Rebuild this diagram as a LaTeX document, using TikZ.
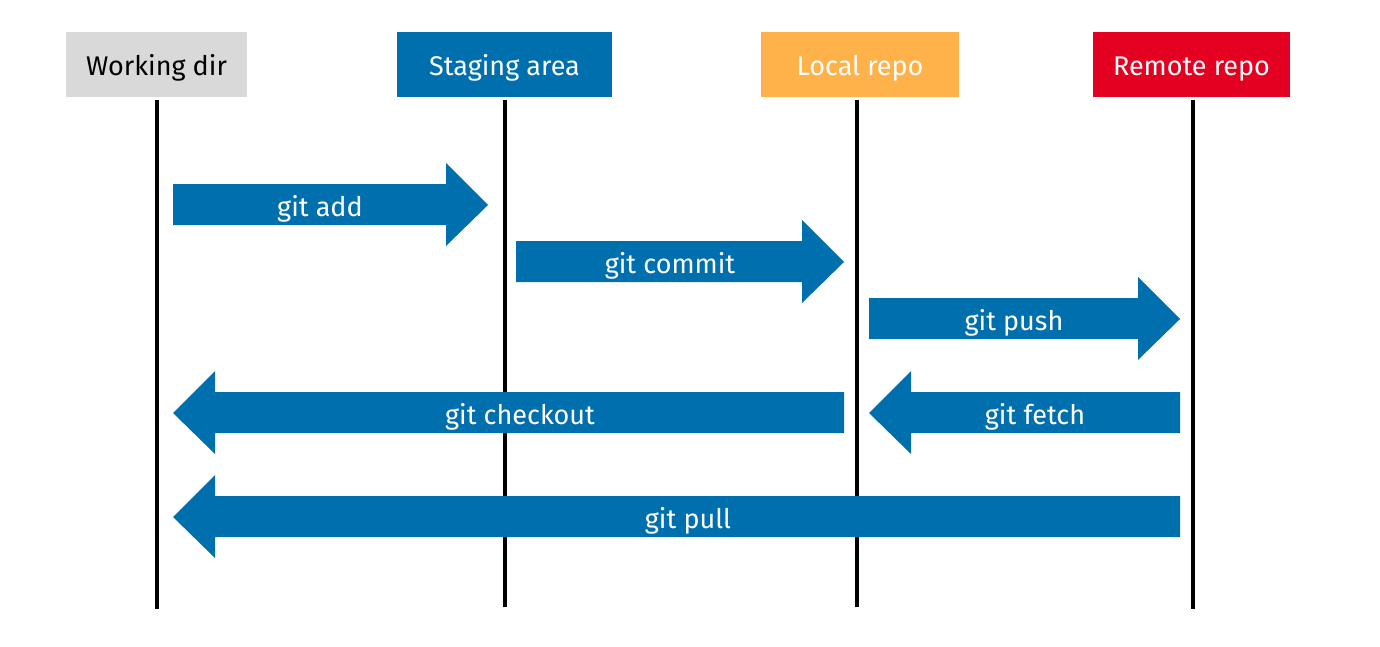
\documentclass[tikz,border=0pt]{standalone}
\usepackage{fontspec}
\setmainfont{Fira Sans}
\definecolor{gitblue}{HTML}{006FAD}
\definecolor{gitorange}{HTML}{FFB14A}
\definecolor{gitred}{HTML}{E30020}
\definecolor{gitgray}{HTML}{D9D9D9}
\tikzset{
  area/.style={minimum height=32.5pt, inner sep=0pt, text height=11pt, text depth=0pt, text=white, font=\fontsize{13.5}{15}\selectfont},
  life/.style={line width=1.8pt, black},
  cmd/.style={fill=gitblue},
  cmdtext/.style={text=white, inner sep=0pt, yshift=-1.8pt, font=\fontsize{13.5}{15}\selectfont}
}
\begin{document}
\begin{tikzpicture}[x=0.5pt,y=-0.5pt]
\useasboundingbox (0,0) rectangle (1380,647);
% the four places
\node [area, fill=gitgray, text=black, minimum width=90.5pt] (wd) at (156.5,64.5) {Working dir};
\node [area, fill=gitblue, minimum width=107.5pt] (stage) at (504.5,64.5) {Staging area};
\node [area, fill=gitorange, minimum width=99pt] (local) at (860,64.5) {Local repo};
\node [area, fill=gitred, minimum width=98.5pt] (remote) at (1191.5,64.5) {Remote repo};
% life lines
\coordinate (wdend) at (157,609);
\coordinate (stageend) at (505,607);
\coordinate (localend) at (857,607);
\coordinate (remoteend) at (1193,609);
\draw [life] (157,100) -- (wdend);
\draw [life] (505,100) -- (stageend);
\draw [life] (857,100) -- (localend);
\draw [life] (1193,100) -- (remoteend);
% commands
\fill [cmd] (173,184) -- (446,184) -- (446,163) -- (488,205) -- (446,246) -- (446,225) -- (173,225) -- cycle;
\node [cmdtext] (add) at (320,205) {git add};
\fill [cmd] (516,241) -- (802,241) -- (802,220) -- (844,262) -- (802,303) -- (802,282) -- (516,282) -- cycle;
\node [cmdtext] (commit) at (670,262) {git commit};
\fill [cmd] (869,298) -- (1138,298) -- (1138,277) -- (1180,319) -- (1138,360) -- (1138,339) -- (869,339) -- cycle;
\node [cmdtext] (push) at (1014,319) {git push};
\fill [cmd] (844,392) -- (215,392) -- (215,371) -- (173,413) -- (215,454) -- (215,433) -- (844,433) -- cycle;
\node [cmdtext] (checkout) at (520,413) {git checkout};
\fill [cmd] (1180,392) -- (911,392) -- (911,371) -- (869,413) -- (911,454) -- (911,433) -- (1180,433) -- cycle;
\node [cmdtext] (fetch) at (1035,413) {git fetch};
\fill [cmd] (1180,496) -- (215,496) -- (215,475) -- (173,517) -- (215,558) -- (215,537) -- (1180,537) -- cycle;
\node [cmdtext] (pull) at (688,517) {git pull};
\end{tikzpicture}
\end{document}
